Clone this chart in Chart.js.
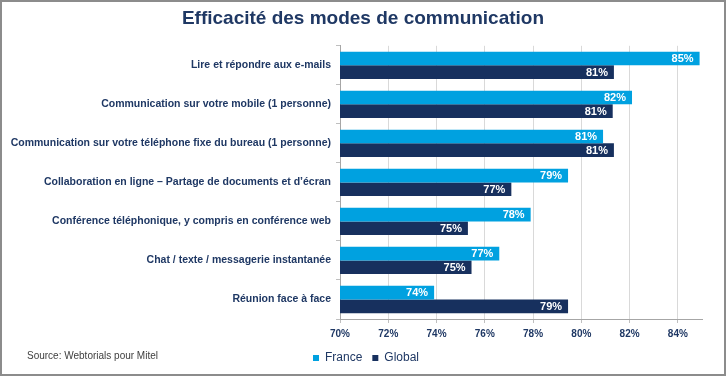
<!DOCTYPE html>
<html>
<head>
<meta charset="utf-8">
<script src="https://cdn.jsdelivr.net/npm/chart.js@4/dist/chart.umd.min.js"></script>
<style>
html,body{margin:0;padding:0;background:#fff;}
#wrap{width:726px;height:376px;position:relative;}
</style>
</head>
<body>
<div id="wrap"><canvas id="c" width="726" height="376"></canvas></div>
<script>
const chartTitle = "Efficacité des modes de communication";
const categories = [
  "Lire et répondre aux e-mails",
  "Communication sur votre mobile (1 personne)",
  "Communication sur votre téléphone fixe du bureau (1 personne)",
  "Collaboration en ligne – Partage de documents et d’écran",
  "Conférence téléphonique, y compris en conférence web",
  "Chat / texte / messagerie instantanée",
  "Réunion face à face"
];
const seriesNames = ["France", "Global"];
const franceValues = [84.9, 82.1, 80.9, 79.45, 77.9, 76.6, 73.9];
const globalValues = [81.35, 81.3, 81.35, 77.1, 75.3, 75.45, 79.45];
const xTicks = [70, 72, 74, 76, 78, 80, 82, 84];
const sourceText = "Source: Webtorials pour Mitel";

const NAVY = "#1F3864";
const FONT = "'Liberation Sans', Arial, sans-serif";

const framePlugin = {
  id: 'frame',
  afterLayout(chart) {
    const lg = chart.legend;
    if (lg) { lg.left += 15; lg.right += 15; }
    const tb = chart.titleBlock;
    if (tb) { tb.left += 12; tb.right += 12; }
  },
  beforeDraw(chart) {
    const ctx = chart.ctx;
    ctx.save();
    ctx.fillStyle = '#ffffff';
    ctx.fillRect(0, 0, chart.width, chart.height);
    ctx.restore();
  },
  afterDraw(chart) {
    const ctx = chart.ctx;
    ctx.save();
    ctx.font = "bold 11px " + FONT;
    ctx.fillStyle = '#ffffff';
    ctx.textAlign = 'right';
    ctx.textBaseline = 'middle';
    chart.data.datasets.forEach((ds, di) => {
      const meta = chart.getDatasetMeta(di);
      meta.data.forEach((bar, i) => {
        ctx.fillText(Math.round(ds.data[i]) + '%', bar.x - 6, bar.y + 0.5);
      });
    });
    ctx.font = "10px " + FONT;
    ctx.fillStyle = '#404040';
    ctx.textAlign = 'left';
    ctx.fillText(sourceText, 27, 356);
    ctx.strokeStyle = '#8c8c8c';
    ctx.lineWidth = 2;
    ctx.strokeRect(1, 1, chart.width - 2, chart.height - 2);
    ctx.restore();
  }
};

new Chart(document.getElementById('c'), {
  type: 'bar',
  data: {
    labels: categories,
    datasets: [
      { label: seriesNames[0], data: franceValues, backgroundColor: '#00A1E0', borderWidth: 0,
        categoryPercentage: 0.7, barPercentage: 1.0 },
      { label: seriesNames[1], data: globalValues, backgroundColor: '#17305E', borderWidth: 0,
        categoryPercentage: 0.7, barPercentage: 1.0 }
    ]
  },
  options: {
    indexAxis: 'y',
    responsive: false,
    animation: false,
    devicePixelRatio: 1,
    layout: { padding: { left: 0, right: 24, top: 0, bottom: 2 } },
    plugins: {
      title: {
        display: true,
        text: chartTitle,
        color: NAVY,
        font: { family: FONT, size: 19, weight: 'bold' },
        padding: { top: 7, bottom: 16 }
      },
      legend: {
        display: true,
        position: 'bottom',
        labels: {
          color: NAVY,
          font: { family: FONT, size: 12 },
          boxWidth: 6,
          boxHeight: 6,
          padding: 10
        }
      },
      tooltip: { enabled: false }
    },
    scales: {
      x: {
        type: 'linear',
        min: 70,
        max: 85,
        afterBuildTicks(scale) {
          scale.ticks = xTicks.map(v => ({ value: v }));
        },
        afterFit(scale) { scale.height = 23; },
        ticks: {
          color: NAVY,
          font: { family: FONT, size: 10, weight: 'bold' },
          padding: 5,
          callback: v => v + '%'
        },
        grid: { color: '#d9d9d9', drawTicks: true, tickLength: 4, tickColor: '#bfbfbf' },
        border: { color: '#a6a6a6', width: 1 }
      },
      y: {
        afterFit(scale) { scale.width = 340; },
        ticks: {
          color: NAVY,
          font: { family: FONT, size: 10.5, weight: 'bold' },
          padding: 5
        },
        grid: { display: true, drawOnChartArea: false, drawTicks: true, tickLength: 4, color: '#bfbfbf', offset: true },
        border: { color: '#a6a6a6', width: 1 }
      }
    }
  },
  plugins: [framePlugin]
});
</script>
</body>
</html>
